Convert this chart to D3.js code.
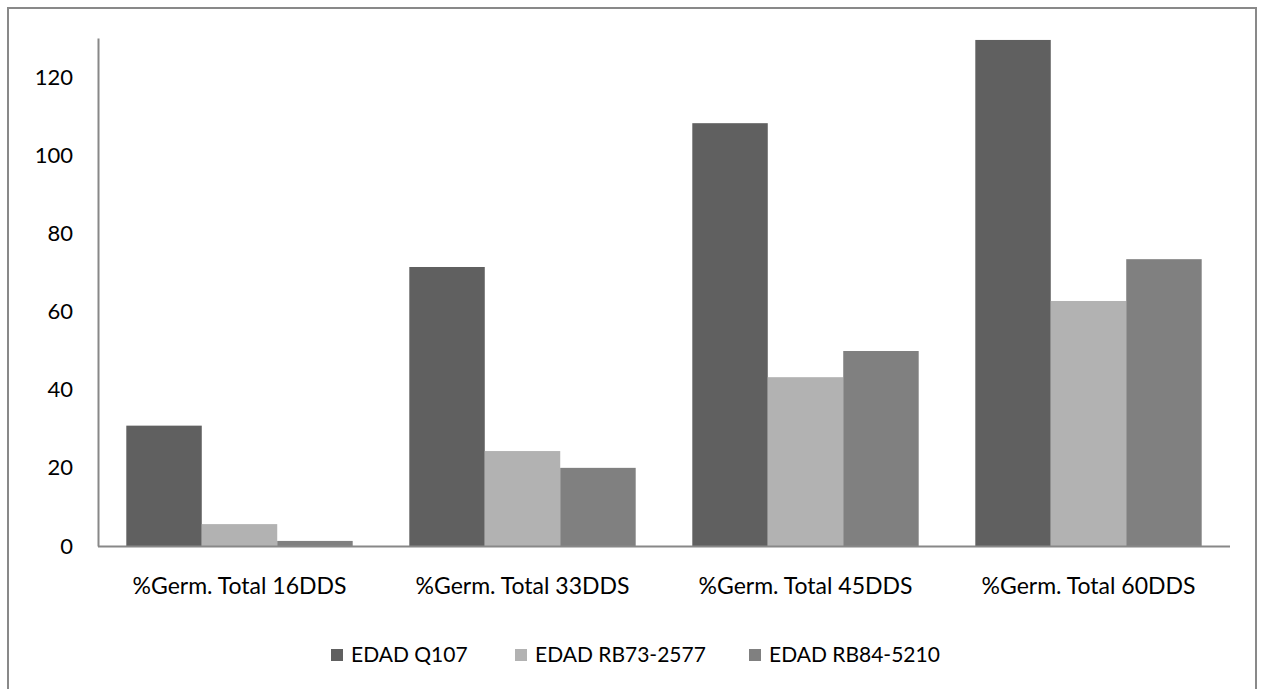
<!DOCTYPE html>
<html>
<head>
<meta charset="utf-8">
<script src="https://cdn.jsdelivr.net/npm/d3@7"></script>
<style>
  html, body { margin: 0; padding: 0; background: #fff; }
  svg { display: block; font-family: Lato, "Open Sans", sans-serif; }
</style>
</head>
<body>
<svg id="chart" width="1265" height="689"></svg>
<script>
// Germination (%) by evaluation date for three sugarcane varieties
const categories = ["%Germ. Total 16DDS", "%Germ. Total 33DDS", "%Germ. Total 45DDS", "%Germ. Total 60DDS"];
const seriesNames = ["EDAD Q107", "EDAD RB73-2577", "EDAD RB84-5210"];
const q107 = [30.8, 71.4, 108.2, 129.5];
const rb73 = [5.6, 24.3, 43.2, 62.7];
const rb84 = [1.3, 20.0, 49.9, 73.4];
const yTicks = [0, 20, 40, 60, 80, 100, 120];
const colors = ["#606060", "#b2b2b2", "#808080"];

const seriesValues = [q107, rb73, rb84];
const svg = d3.select("#chart");
const fontStack = "Lato, 'Open Sans', sans-serif";

// outer frame
svg.append("rect")
  .attr("x", 8).attr("y", 8).attr("width", 1248).attr("height", 690)
  .attr("fill", "none").attr("stroke", "#898989").attr("stroke-width", 2);

const plotLeft = 98, plotRight = 1230, plotTop = 38, plotBottom = 546;

const x0 = d3.scaleBand().domain(categories).range([plotLeft, plotRight]).paddingInner(0.2).paddingOuter(0.1);
const x1 = d3.scaleBand().domain(seriesNames).range([0, x0.bandwidth()]);
const y = d3.scaleLinear().domain([0, 130]).range([plotBottom, plotTop]);

// bars
const groups = svg.append("g").selectAll("g")
  .data(categories)
  .join("g")
  .attr("transform", d => `translate(${x0(d)},0)`);

groups.selectAll("rect")
  .data((c, i) => seriesNames.map((s, k) => ({ s, k, v: seriesValues[k][i] })))
  .join("rect")
  .attr("x", d => x1(d.s))
  .attr("width", x1.bandwidth())
  .attr("y", d => y(d.v))
  .attr("height", d => y(0) - y(d.v))
  .attr("fill", d => colors[d.k]);

// y axis
const yAxis = svg.append("g")
  .attr("transform", `translate(${plotLeft},0)`)
  .call(d3.axisLeft(y).tickValues(yTicks).tickSize(0).tickPadding(25));
yAxis.select(".domain").attr("stroke", "#888").attr("stroke-width", 2);
yAxis.selectAll("text").attr("font-size", 22).attr("fill", "#000").attr("font-family", fontStack);

// x axis
const xAxis = svg.append("g")
  .attr("transform", `translate(0,${plotBottom})`)
  .call(d3.axisBottom(x0).tickSize(0).tickPadding(32).tickSizeOuter(0));
xAxis.select(".domain").attr("d", `M${plotLeft},0.5H${plotRight}`).attr("stroke", "#888").attr("stroke-width", 2);
xAxis.selectAll("text").attr("font-size", 23).attr("fill", "#000").attr("font-family", fontStack);

// legend
const legendX = [331, 515, 749];
const legend = svg.append("g").selectAll("g")
  .data(seriesNames)
  .join("g")
  .attr("transform", (d, i) => `translate(${legendX[i]},655)`);
legend.append("rect")
  .attr("x", 0).attr("y", -6).attr("width", 12).attr("height", 12)
  .attr("fill", (d, i) => colors[i]);
legend.append("text")
  .attr("x", 20).attr("y", 0).attr("dy", "0.35em")
  .attr("font-size", 21).attr("fill", "#000").attr("font-family", fontStack)
  .text(d => d);
</script>
</body>
</html>
